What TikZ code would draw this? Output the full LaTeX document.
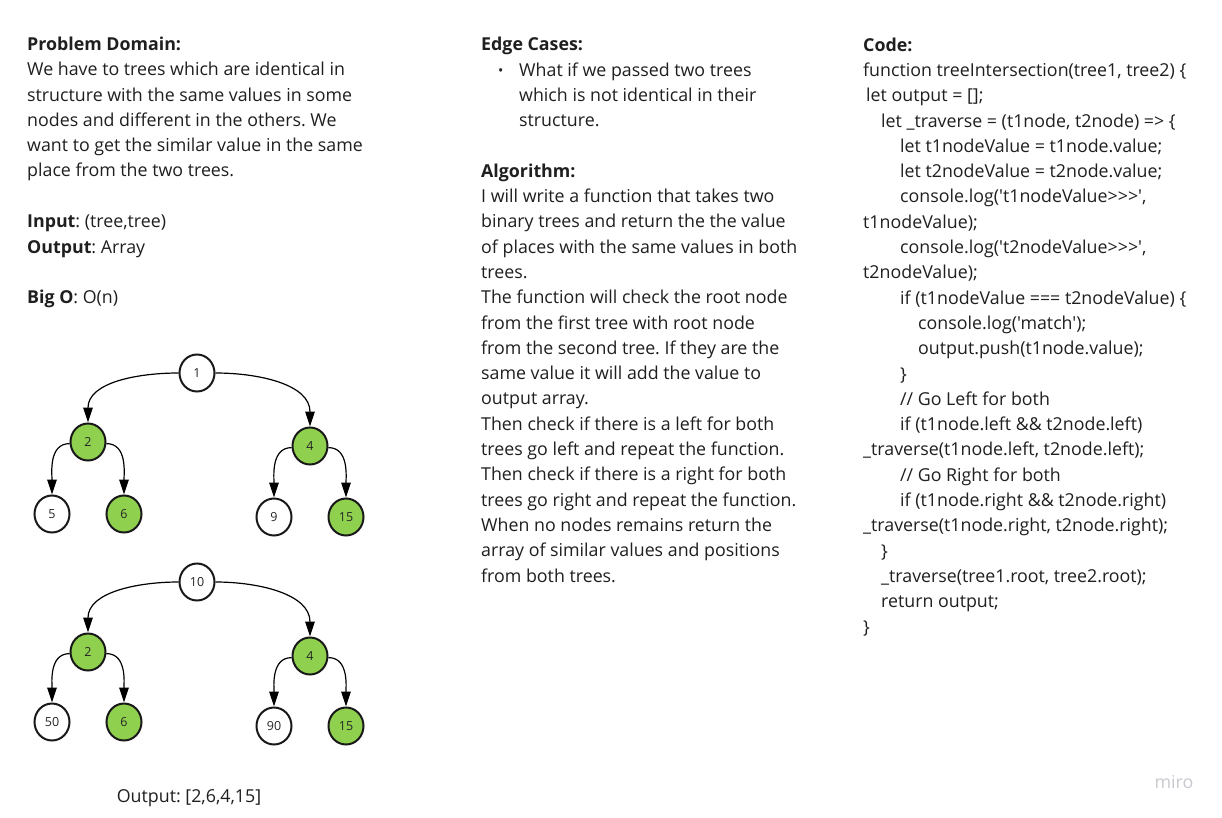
\documentclass[tikz,border=0pt]{standalone}
\usepackage{fontspec}
\setmainfont{Open Sans}
\newfontfamily\codefont{Open Sans}
\frenchspacing
\usetikzlibrary{arrows.meta,shapes.geometric}

\tikzset{
  txt/.style={anchor=base west, align=left, inner sep=0pt, text=black!88,
    font=\fontsize{17.8}{25.3}\selectfont},
  leaf/.style={ellipse, draw=black!90, line width=2pt, fill=white,
    minimum width=35pt, minimum height=37pt, inner sep=0pt, text=black!85,
    font=\fontsize{12.5}{12.5}\selectfont},
  hit/.style={leaf, fill=cgreen},
  link/.style={-{Triangle[length=15pt,width=9.5pt]}, line width=1.2pt, black}
}
\newcommand{\ind}[1]{\hspace*{#1pt}}

\begin{document}
\begin{tikzpicture}[x=1pt,y=-1pt]
  \definecolor{cgreen}{rgb}{0.56,0.82,0.31}
  \definecolor{clogo}{rgb}{0.79,0.79,0.81}
  \useasboundingbox[fill=white] (0,0) rectangle (1222,818);
  % blocks sit on the baseline of their last line
  \node[txt] (dom) at (27,177) {\textbf{Problem Domain:}\\
    We have to trees which are identical in\\
    structure with the same values in some\\
    nodes and different in the others. We\\
    want to get the similar value in the same\\
    place from the two trees.};
  \node[txt] (io) at (27,253) {\textbf{Input}: (tree,tree)\\
    \textbf{Output}: Array};
  \node[txt] (bigo) at (27,303) {\textbf{Big O}: O(n)};
  %
  \node[txt] (edge) at (481,51) {\textbf{Edge Cases:}};
  \node[txt, font=\fontsize{14}{14}\selectfont] (dot) at (498,75.5) {•};
  \node[txt] (case) at (519,127) {What if we passed two trees\\
    which is not identical in their\\
    structure.};
  \node[txt] (algo) at (481,582) {\textbf{Algorithm:}\\
    I will write a function that takes two\\
    binary trees and return the the value\\
    of places with the same values in both\\
    trees.\\
    The function will check the root node\\
    from the first tree with root node\\
    from the second tree. If they are the\\
    same value it will add the value to\\
    output array.\\
    Then check if there is a left for both\\
    trees go left and repeat the function.\\
    Then check if there is a right for both\\
    trees go right and repeat the function.\\
    When no nodes remains return the\\
    array of similar values and positions\\
    from both trees.};
  %
  \node[txt, font=\codefont\fontsize{17.8}{25.3}\selectfont] (code) at (863,633) {\textbf{Code:}\\
    function treeIntersection(tree1, tree2) \{\\
    \ind{3}let output = [];\\
    \ind{18}let \_traverse = (t1node, t2node) => \{\\
    \ind{37}let t1nodeValue = t1node.value;\\
    \ind{37}let t2nodeValue = t2node.value;\\
    \ind{37}console.log('t1nodeValue>>>',\\
    t1nodeValue);\\
    \ind{37}console.log('t2nodeValue>>>',\\
    t2nodeValue);\\
    \ind{37}if (t1nodeValue === t2nodeValue) \{\\
    \ind{55}console.log('match');\\
    \ind{55}output.push(t1node.value);\\
    \ind{37}\}\\
    \ind{37}// Go Left for both\\
    \ind{37}if (t1node.left \&\& t2node.left)\\
    \_traverse(t1node.left, t2node.left);\\
    \ind{37}// Go Right for both\\
    \ind{37}if (t1node.right \&\& t2node.right)\\
    \_traverse(t1node.right, t2node.right);\\
    \ind{18}\}\\
    \ind{18}\_traverse(tree1.root, tree2.root);\\
    \ind{18}return output;\\
    \}};
  %
  \node[leaf] (u1) at (197,373) {1};
  \node[hit] (u2) at (88,442) {2};
  \node[hit] (u4) at (310,446) {4};
  \node[leaf] (u5) at (52,514) {5};
  \node[hit] (u6) at (124,514) {6};
  \node[leaf] (u9) at (274,517) {9};
  \node[hit] (u15) at (346,517) {15};
  %
  \node[leaf] (w10) at (197,582) {10};
  \node[hit] (w2) at (88,652) {2};
  \node[hit] (w4) at (310,656) {4};
  \node[leaf] (w50) at (52,722) {50};
  \node[hit] (w6) at (124,722) {6};
  \node[leaf] (w90) at (274,726) {90};
  \node[hit] (w15) at (346,726) {15};
  %
  \draw[link] (u1.west) to[out=180,in=90] (u2.north);
  \draw[link] (u1.east) to[out=0,in=90] (u4.north);
  \draw[link] (u2.185) to[out=180,in=90] (u5.north);
  \draw[link] (u2.355) to[out=0,in=90] (u6.north);
  \draw[link] (u4.185) to[out=180,in=90] (u9.north);
  \draw[link] (u4.355) to[out=0,in=90] (u15.north);
  \draw[link] (w10.west) to[out=180,in=90] (w2.north);
  \draw[link] (w10.east) to[out=0,in=90] (w4.north);
  \draw[link] (w2.185) to[out=180,in=90] (w50.north);
  \draw[link] (w2.355) to[out=0,in=90] (w6.north);
  \draw[link] (w4.185) to[out=180,in=90] (w90.north);
  \draw[link] (w4.355) to[out=0,in=90] (w15.north);
  %
  \node[txt, anchor=base] (res) at (189,802) {Output: [2,6,4,15]};
  \node[txt, anchor=base, text=clogo] (logo) at (1174,788) {miro};
\end{tikzpicture}
\end{document}
